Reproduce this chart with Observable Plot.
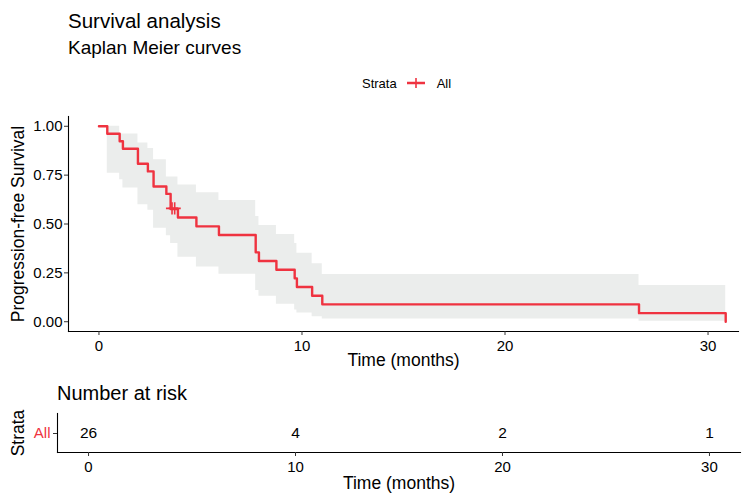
<!DOCTYPE html>
<html><head><meta charset="utf-8">
<script src="https://cdn.jsdelivr.net/npm/d3@7"></script>
<script src="https://cdn.jsdelivr.net/npm/@observablehq/plot@0.6"></script>
<style>
body{margin:0;background:#fff;font-family:"Liberation Sans",Arial,sans-serif;}
#wrap{position:relative;width:750px;height:498px;overflow:hidden;background:#fff;}
.t{position:absolute;white-space:nowrap;color:#000;line-height:1;}
</style></head><body>
<div id="wrap">
  <div class="t" style="left:68px;top:11px;font-size:20.5px">Survival analysis</div>
  <div class="t" style="left:68px;top:38px;font-size:19px">Kaplan Meier curves</div>
  <div class="t" id="legend" style="left:362px;top:76px;font-size:13px;display:flex;align-items:center;">
    <span>Strata</span>
    <svg width="22" height="14" style="margin:0 10px 0 8px"><line x1="2" y1="7" x2="20" y2="7" stroke="#EF3340" stroke-width="2.5"/><line x1="11" y1="2" x2="11" y2="12" stroke="#EF3340" stroke-width="1.6"/></svg>
    <span>All</span>
  </div>
  <div id="main" style="position:absolute;left:0;top:100px"></div>
  <div class="t" style="left:57px;top:383px;font-size:20px">Number at risk</div>
  <div id="risk" style="position:absolute;left:0;top:405px"></div>
</div>
<script>
// Kaplan-Meier step data (time in months)
const times = [0, 0.41, 1.02, 1.18, 1.92, 2.41, 2.69, 3.32, 3.53, 3.89, 4.80, 5.91, 7.72, 7.88, 8.74, 9.64, 9.75, 10.50, 11.00, 26.60, 30.87];
const surv  = [1, 0.962, 0.923, 0.885, 0.808, 0.769, 0.692, 0.654, 0.577, 0.533, 0.488, 0.444, 0.355, 0.311, 0.266, 0.222, 0.178, 0.133, 0.089, 0.044, 0];
const upper = [1, 1, 0.96, 0.96, 0.914, 0.886, 0.829, 0.74, 0.74, 0.70, 0.66, 0.62, 0.538, 0.492, 0.446, 0.40, 0.35, 0.296, 0.241, 0.185, 0.185];
const lower = [1, 0.76, 0.727, 0.684, 0.598, 0.57, 0.478, 0.44, 0.40, 0.33, 0.28, 0.243, 0.16, 0.13, 0.09, 0.06, 0.045, 0.025, 0.014, 0.003, 0.003];
// censored observations
const censorTimes = [3.60, 3.73];
const censorSurv  = [0.58, 0.58];
// risk table
const riskTimes  = [0, 10, 20, 30];
const riskCounts = [26, 4, 2, 1];
const xTicks = [0, 10, 20, 30];
const yTicks = [0, 0.25, 0.5, 0.75, 1];

const RED = "#EF3340";
const km = times.map((t, i) => ({t, s: surv[i], hi: upper[i], lo: lower[i]}));
const cens = censorTimes.map((t, i) => ({t, s: censorSurv[i]}));

const main = Plot.plot({
  width: 750, height: 275,
  marginLeft: 68, marginRight: 12, marginTop: 16, marginBottom: 44,
  style: {fontFamily: "Liberation Sans, Arial, sans-serif", fontSize: "15px", color: "#000", background: "transparent"},
  x: {domain: [-1.5, 31.5]},
  y: {domain: [-0.05, 1.05]},
  marks: [
    Plot.areaY(km, {x: "t", y1: "lo", y2: "hi", curve: "step-after", fill: "#EBEDEC"}),
    Plot.line(km, {x: "t", y: "s", curve: "step-after", stroke: RED, strokeWidth: 2.4}),
    Plot.dot(cens, {x: "t", y: "s", symbol: "plus", stroke: RED, r: 4, strokeWidth: 1.6}),
    Plot.frame({anchor: "bottom", stroke: "#000", strokeWidth: 1.1}),
    Plot.frame({anchor: "left", stroke: "#000", strokeWidth: 1.1}),
    Plot.axisX({ticks: xTicks, tickSize: 4, tickPadding: 5, label: null, fontSize: 15, stroke: "#333"}),
    Plot.axisY({ticks: yTicks, tickFormat: ".2f", tickSize: 4, tickPadding: 2, label: null, fontSize: 15, stroke: "#333"}),
    Plot.text(["Time (months)"], {frameAnchor: "bottom", text: d => d, dy: 34, fontSize: 17.5}),
    Plot.text(["Progression-free Survival"], {frameAnchor: "left", textAnchor: "middle", text: d => d, dx: -50, rotate: -90, fontSize: 17.5})
  ]
});
document.getElementById("main").appendChild(main);

const risk = Plot.plot({
  width: 750, height: 93,
  marginLeft: 57, marginRight: 10, marginTop: 8, marginBottom: 46,
  style: {fontFamily: "Liberation Sans, Arial, sans-serif", fontSize: "15px", color: "#000", background: "transparent"},
  x: {domain: [-1.5, 31.5]},
  y: {domain: ["All"], type: "point"},
  marks: [
    Plot.text(riskTimes, {x: d => d, y: () => "All", text: (d, i) => String(riskCounts[i]), fontSize: 15.5}),
    Plot.frame({anchor: "bottom", stroke: "#000", strokeWidth: 1.1}),
    Plot.frame({anchor: "left", stroke: "#000", strokeWidth: 1.1}),
    Plot.axisX({ticks: xTicks, tickSize: 4, tickPadding: 5, label: null, fontSize: 15, stroke: "#333"}),
    Plot.axisY({tickSize: 4, tickPadding: 3, label: null, fontSize: 15, fill: RED, stroke: "#333"}),
    Plot.text(["Time (months)"], {frameAnchor: "bottom", text: d => d, dy: 36, fontSize: 17.5}),
    Plot.text(["Strata"], {frameAnchor: "left", textAnchor: "middle", text: d => d, dx: -39, rotate: -90, fontSize: 17.5})
  ]
});
document.getElementById("risk").appendChild(risk);
</script>
</body></html>
